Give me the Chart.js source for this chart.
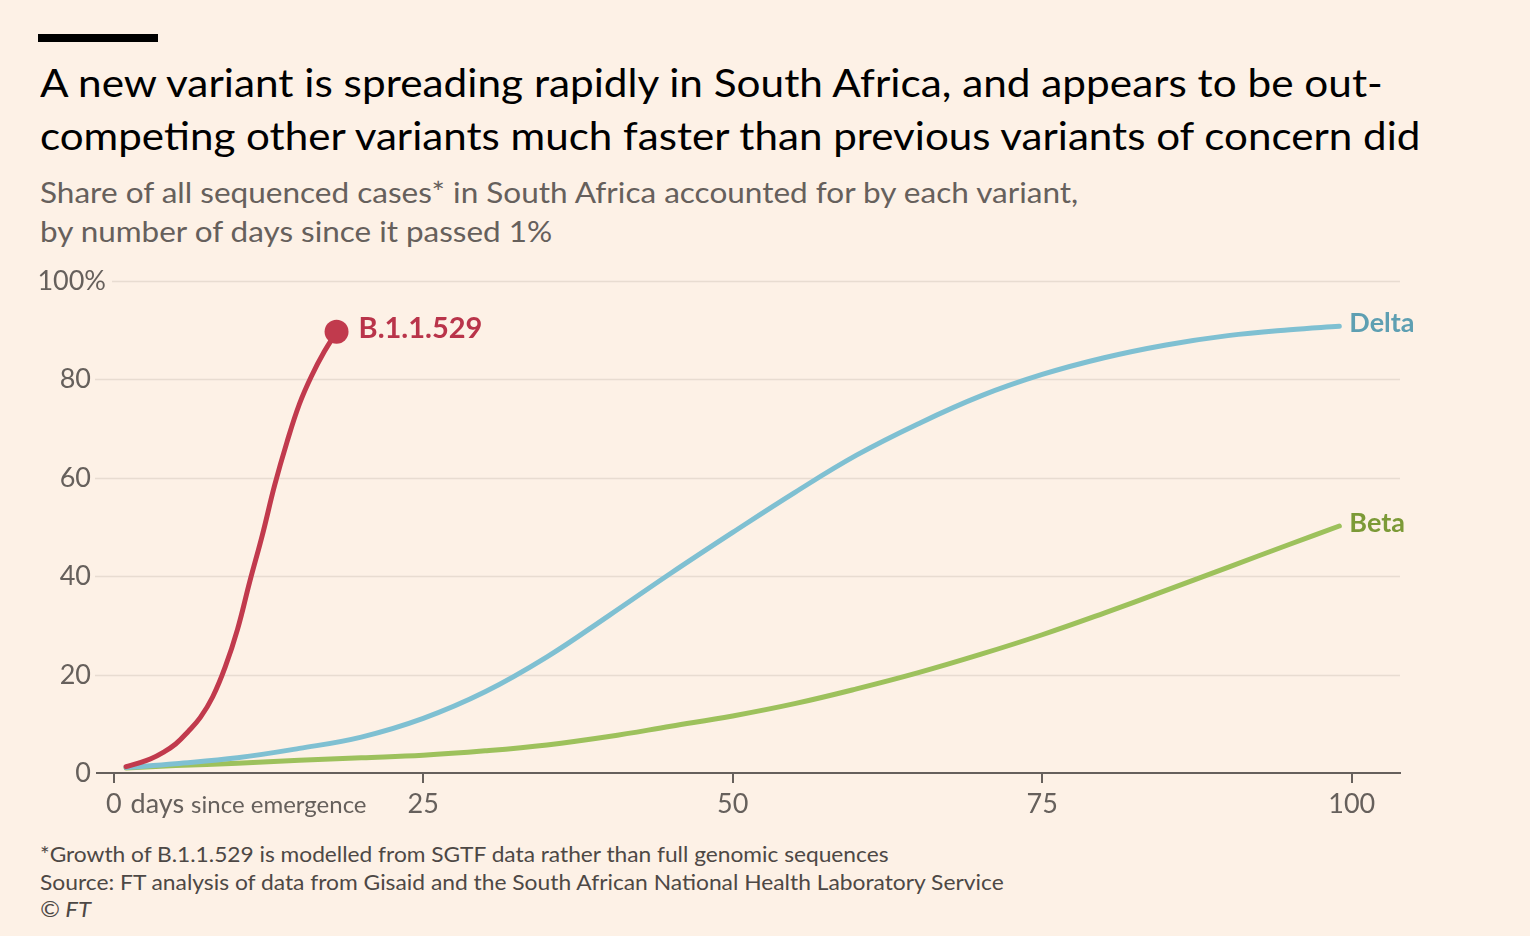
<!DOCTYPE html>
<html>
<head>
<meta charset="utf-8">
<script src="https://cdn.jsdelivr.net/npm/chart.js@4.4.0/dist/chart.umd.min.js"></script>
<style>
html,body{margin:0;padding:0;background:#fdf1e6;}
body{width:1530px;height:936px;position:relative;overflow:hidden;font-family:Lato,"Noto Sans",sans-serif;}
.bar{position:absolute;left:38px;top:34px;width:120px;height:8px;background:#000;}
.fit{position:absolute;left:40px;white-space:nowrap;display:inline-block;transform-origin:0 0;line-height:1;}
.ttl{font-size:38px;color:#000;}
.sub{font-size:28px;color:#66605c;}
.ftn{font-size:21px;color:#4d4845;}
#wrap{position:absolute;left:0;top:0;width:1530px;height:936px;}
</style>
</head>
<body>
<div class="bar"></div>
<div class="fit ttl" id="t1" data-w="1343" style="top:63px">A new variant is spreading rapidly in South Africa, and appears to be out-</div>
<div class="fit ttl" id="t2" data-w="1380" style="top:116px">competing other variants much faster than previous variants of concern did</div>
<div class="fit sub" id="s1" data-w="1038" style="top:178px">Share of all sequenced cases* in South Africa accounted for by each variant,</div>
<div class="fit sub" id="s2" data-w="512" style="top:217px">by number of days since it passed 1%</div>
<div class="fit ftn" id="f1" data-w="848" style="top:843px">*Growth of B.1.1.529 is modelled from SGTF data rather than full genomic sequences</div>
<div class="fit ftn" id="f2" data-w="964" style="top:871px">Source: FT analysis of data from Gisaid and the South African National Health Laboratory Service</div>
<div class="fit ftn" id="f3" data-w="51" style="top:898px;font-style:italic">© FT</div>
<div id="wrap"><canvas id="chart" width="1530" height="936"></canvas></div>
<script>
// ── DATA ─────────────────────────────────────────────────
var omicronDays=[1,2,3,4,5,6,7,8,9,10,11,12,13,14,15,16,17,18];
var omicronShare=[1.3,2.0,2.9,4.2,5.9,8.4,11.3,15.5,21.5,29.2,39.0,48.3,58.5,67.3,75.0,80.8,85.6,89.7];
var deltaDays=[1,5,10,15,20,25,30,35,40,45,50,55,60,65,70,75,80,85,90,95,99];
var deltaShare=[1.1,1.9,3.1,5.0,7.3,11.1,16.5,23.6,32.0,40.6,48.9,57.0,64.6,71.0,76.6,81.0,84.4,87.0,88.9,90.1,90.8];
var betaDays=[1,5,10,15,20,25,30,35,40,45,50,55,60,65,70,75,80,85,90,95,99];
var betaShare=[1.0,1.5,2.0,2.6,3.1,3.6,4.5,5.7,7.4,9.5,11.6,14.1,17.1,20.4,24.1,28.1,32.5,37.1,41.8,46.5,50.2];
var seriesNames=['B.1.1.529','Delta','Beta'];
var xTicks=[0,25,50,75,100];
var yTicks=[0,20,40,60,80,100];

// ── TEXT FIT ─────────────────────────────────────────────
function fitText(){
  var els=document.querySelectorAll('.fit');
  for(var i=0;i<els.length;i++){
    var e=els[i], w=Number(e.getAttribute('data-w')), cur=e.offsetWidth;
    if(cur>0) e.style.transform='scaleX('+(w/cur)+')';
  }
}
fitText();

function pts(xs,ys){return xs.map(function(x,i){return {x:x,y:ys[i]};});}

var C_RED='#c13a4d', C_BLUE='#7fc0d2', C_GREEN='#9dc15c';
var L_RED='#b9344a', L_BLUE='#5e9fb2', L_GREEN='#7c9a37';
var TXT='#66605c';
var FONT='Lato, "Noto Sans", sans-serif';

var decor={
  id:'ftDecor',
  beforeDatasetsDraw:function(chart){
    var c=chart.ctx, ys=chart.scales.y, xs=chart.scales.x, a=chart.chartArea;
    c.save();
    // gridlines + y labels
    yTicks.forEach(function(v){
      var py=Math.round(ys.getPixelForValue(v))+0.5;
      if(v>0){
        c.strokeStyle='#e8dcd1';c.lineWidth=1.5;
        c.beginPath();c.moveTo(v===100?112:a.left-2,py);c.lineTo(a.right,py);c.stroke();
      }
      c.fillStyle=TXT;c.font='27px '+FONT;
      c.textBaseline='middle';c.textAlign='right';
      if(v===100) c.fillText('100%',106,py);
      else c.fillText(String(v),91,py);
    });
    // x labels
    c.textBaseline='alphabetic';
    xTicks.forEach(function(v){
      var px=xs.getPixelForValue(v);
      c.font='27px '+FONT;c.fillStyle=TXT;
      c.textAlign='center';c.fillText(String(v),px,813);
      if(v===0){
        var w=c.measureText('0').width;
        c.textAlign='left';
        c.fillText('days',px+w/2+9,813);
        var w2=c.measureText('days').width;
        c.font='24px '+FONT;
        c.fillText('since emergence',px+w/2+9+w2+7,813);
      }
    });
    c.restore();
  },
  afterDatasetsDraw:function(chart){
    var c=chart.ctx;
    var offs=[22,10,10];
    c.save();
    c.textBaseline='middle';c.textAlign='left';
    chart.data.datasets.forEach(function(ds,i){
      var meta=chart.getDatasetMeta(i), p=meta.data[meta.data.length-1];
      c.font='bold '+(i===0?29:27)+'px '+FONT;
      c.fillStyle=ds.labelColor;
      c.fillText(seriesNames[i],p.x+offs[i],p.y-3);
    });
    c.restore();
  }
};

var ctx=document.getElementById('chart').getContext('2d');
new Chart(ctx,{
  type:'line',
  data:{
    datasets:[
      {label:seriesNames[0],data:pts(omicronDays,omicronShare),borderColor:C_RED,backgroundColor:C_RED,labelColor:L_RED,
       pointRadius:function(c){return c.dataIndex===omicronDays.length-1?12:0;},pointBorderWidth:0,pointBackgroundColor:C_RED},
      {label:seriesNames[1],data:pts(deltaDays,deltaShare),borderColor:C_BLUE,labelColor:L_BLUE,pointRadius:0},
      {label:seriesNames[2],data:pts(betaDays,betaShare),borderColor:C_GREEN,labelColor:L_GREEN,pointRadius:0}
    ]
  },
  options:{
    responsive:false,
    animation:false,
    devicePixelRatio:1,
    layout:{padding:{left:97,right:130,top:281,bottom:153}},
    elements:{line:{borderWidth:5,tension:0.4,borderCapStyle:'round'}},
    clip:false,
    plugins:{legend:{display:false},tooltip:{enabled:false}},
    scales:{
      x:{type:'linear',min:-1.35,max:103.9,
         afterBuildTicks:function(s){s.ticks=xTicks.map(function(v){return {value:v};});},
         ticks:{display:false},
         grid:{drawOnChartArea:false,drawTicks:true,tickLength:10,color:TXT,lineWidth:2},
         border:{display:true,color:TXT,width:2}},
      y:{min:0,max:100,display:false}
    }
  },
  plugins:[decor]
});
</script>
</body>
</html>
